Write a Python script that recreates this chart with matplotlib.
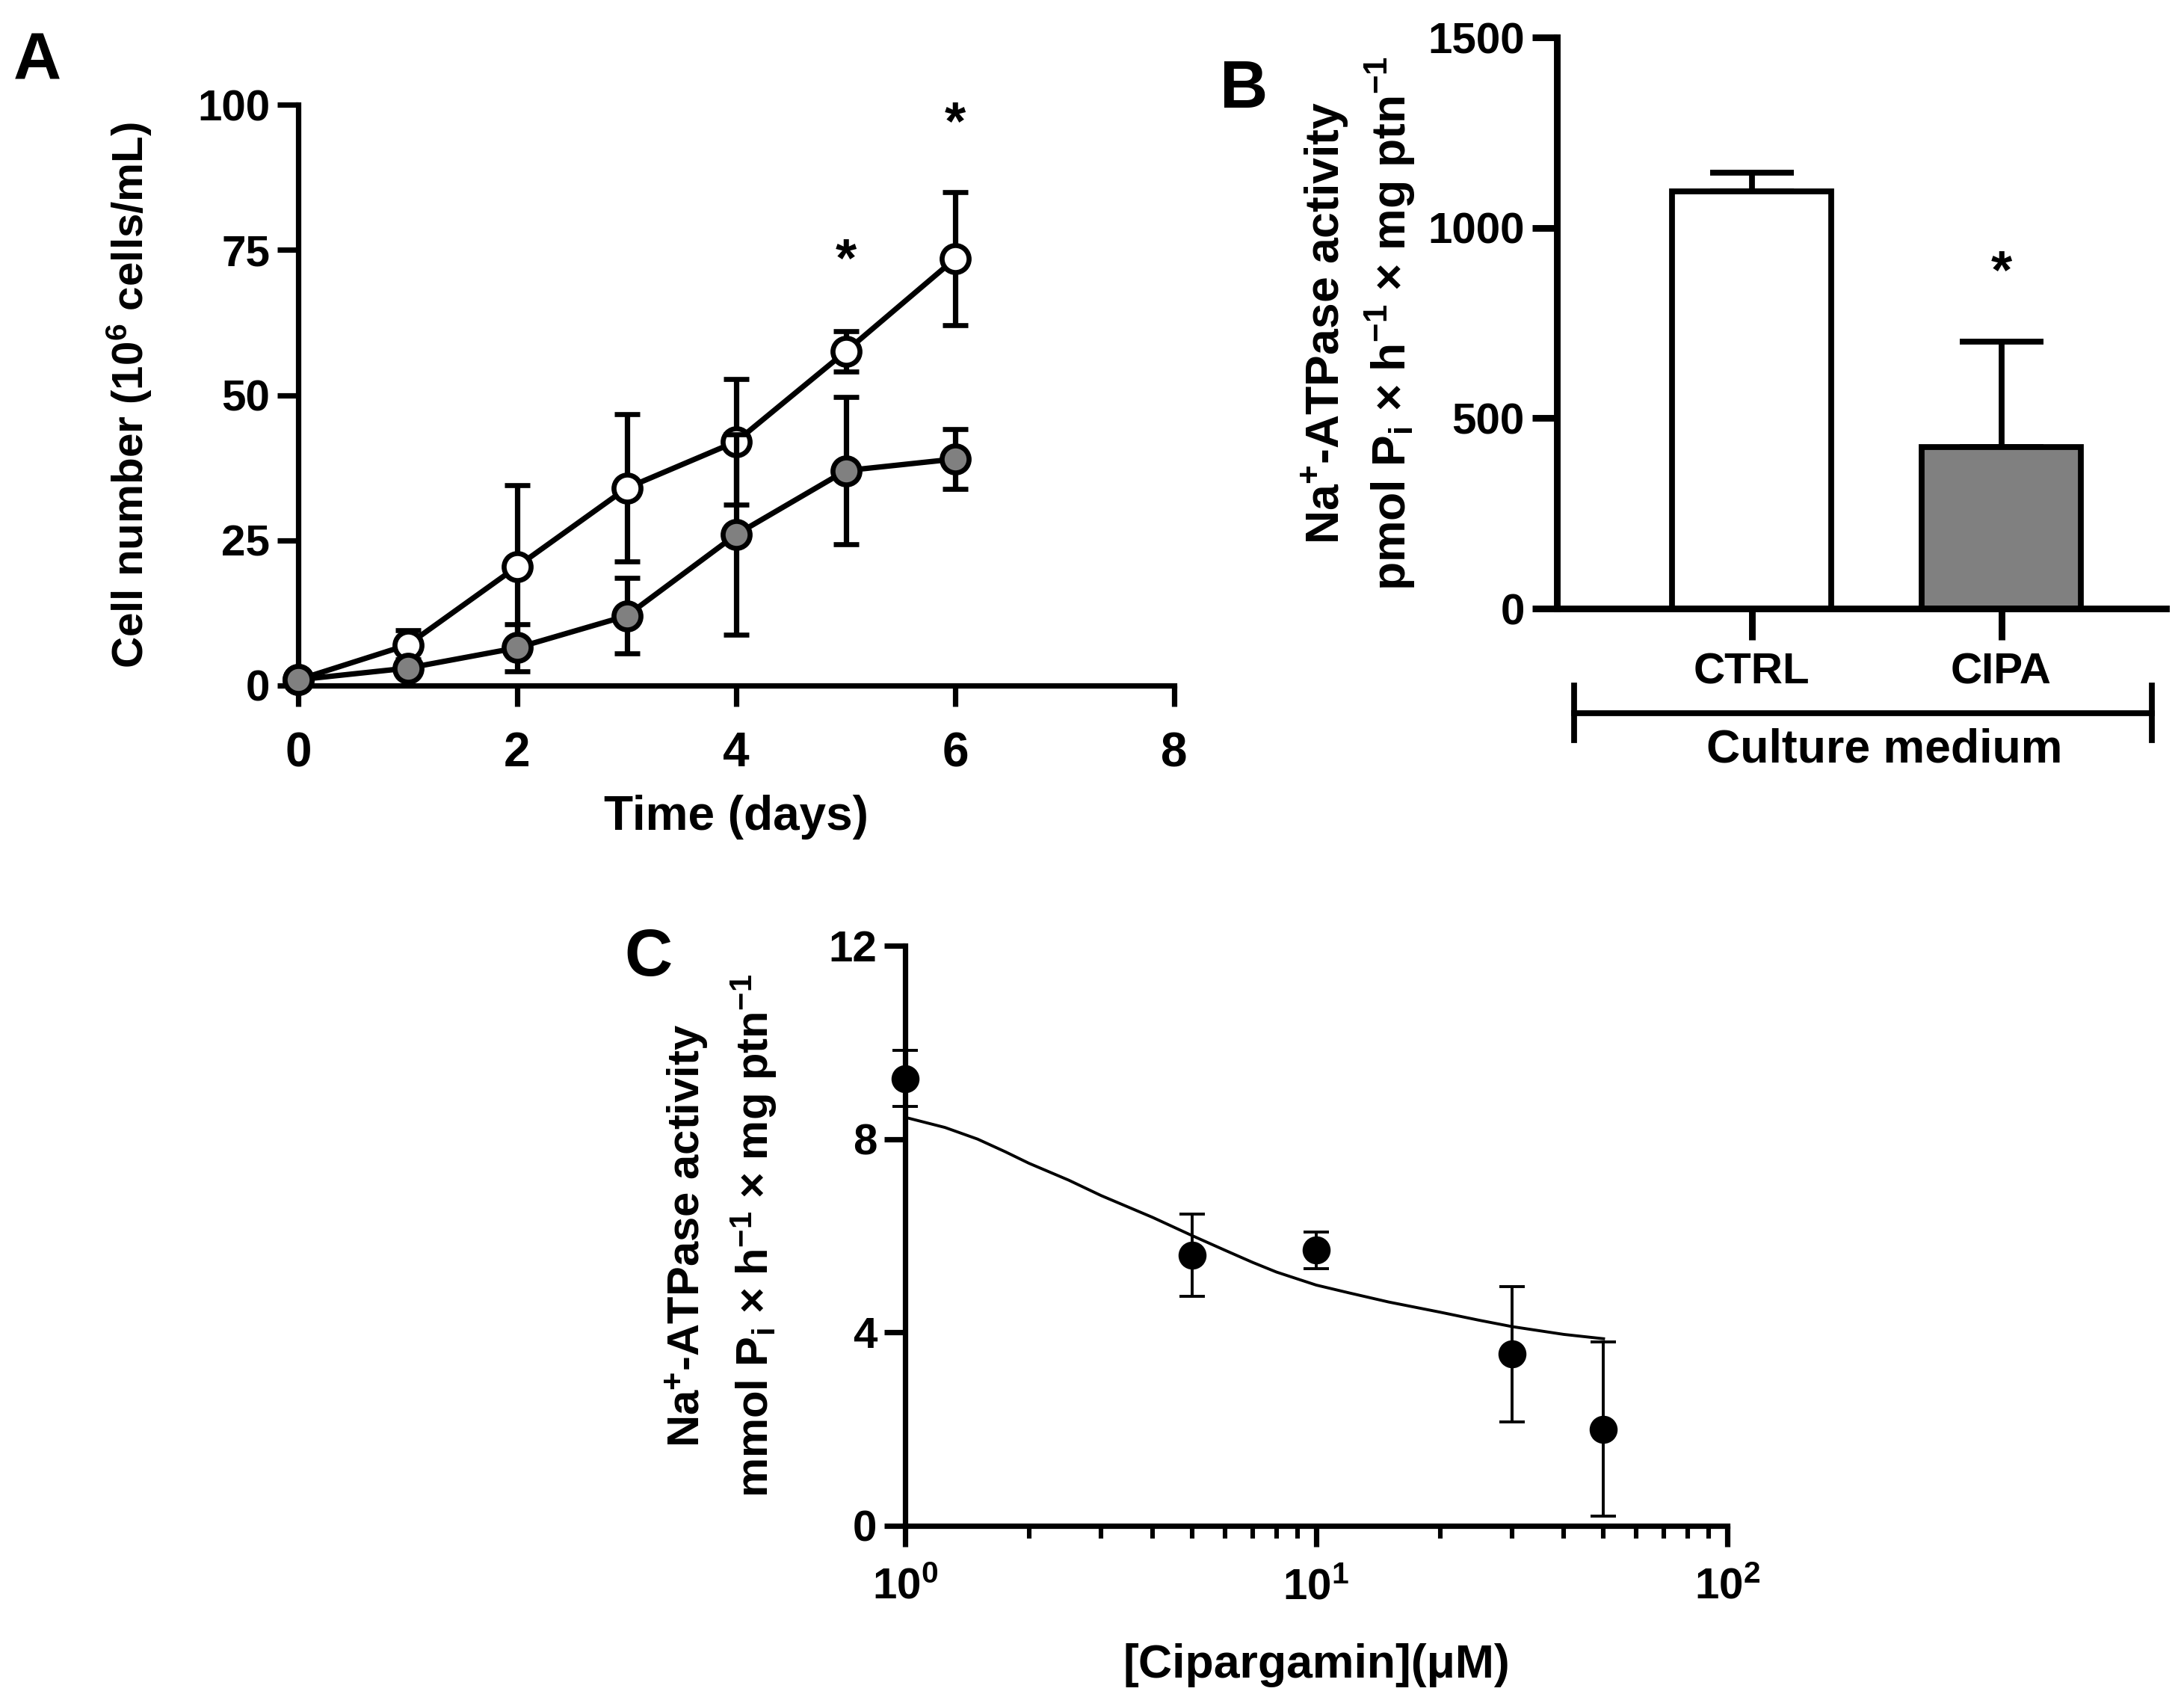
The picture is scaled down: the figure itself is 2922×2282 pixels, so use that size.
import numpy as np
import matplotlib
matplotlib.use("Agg")
import matplotlib.pyplot as plt
from matplotlib.lines import Line2D
from matplotlib.ticker import LogLocator, NullFormatter

# ---- data ----
days = [0, 1, 2, 3, 4, 5, 6]
ctrl_cells = [1, 7, 20.5, 34, 42, 57.5, 73.5]
ctrl_err = [0.5, 2.5, 14, 12.7, 10.8, 3.5, 11.5]
cipa_cells = [1, 3, 6.5, 12, 26, 37, 39]
cipa_err = [0.5, 0.8, 4, 6.5, 17.2, 12.7, 5.2]
star_days = [5, 6]
star_y = [73, 96.5]

groups = ["CTRL", "CIPA"]
atpase = [1095, 425]
atpase_err = [50, 275]
bar_colors = ["white", "#808080"]
star_b_y = 880

conc = [1, 5, 10, 30, 50]
activity = [9.25, 5.6, 5.7, 3.55, 2.0]
activity_err = [0.58, 0.85, 0.38, 1.4, 1.8]
fit_x = [1, 1.25, 1.5, 1.75, 2, 2.5, 3, 4, 5, 6, 7, 8, 10, 12, 15, 20, 25, 30, 40, 50]
fit_y = [8.45, 8.24, 8.0, 7.74, 7.5, 7.15, 6.83, 6.38, 6.0, 5.7, 5.45, 5.25,
         4.98, 4.82, 4.63, 4.42, 4.25, 4.12, 3.96, 3.87]

WIDE = ["Liberation Sans", "DejaVu Sans"]

plt.rcParams["font.family"] = WIDE
plt.rcParams["font.weight"] = "bold"
plt.rcParams["mathtext.fontset"] = "custom"
plt.rcParams["mathtext.rm"] = "Liberation Sans:bold"
plt.rcParams["mathtext.bf"] = "Liberation Sans:bold"
plt.rcParams["mathtext.it"] = "Liberation Sans:bold"
plt.rcParams["mathtext.default"] = "bf"

W, H = 2922, 2282
fig = plt.figure(figsize=(W / 200, H / 200), dpi=200)

def px_axes(x0, y0, x1, y1):
    return fig.add_axes([x0 / W, 1 - y1 / H, (x1 - x0) / W, (y1 - y0) / H])

def style(ax, lw=2.6, tick_len=10, size=21):
    for s in ["top", "right"]:
        ax.spines[s].set_visible(False)
    for s in ["left", "bottom"]:
        ax.spines[s].set_linewidth(lw)
    ax.tick_params(width=lw, length=tick_len, labelsize=size)
    for lab in ax.get_xticklabels() + ax.get_yticklabels():
        lab.set_fontweight("bold")

# ---- panel A ----
axA = px_axes(399, 140, 1571, 917)
axA.errorbar(days, ctrl_cells, yerr=ctrl_err, fmt="-o", color="black",
             mfc="white", mec="black", ms=13, mew=2.4, lw=2.6,
             elinewidth=2.6, capsize=6, capthick=2.6, clip_on=False, zorder=3)
axA.errorbar(days, cipa_cells, yerr=cipa_err, fmt="-o", color="black",
             mfc="#808080", mec="black", ms=13, mew=2.4, lw=2.6,
             elinewidth=2.6, capsize=6, capthick=2.6, clip_on=False, zorder=4)
for d, y in zip(star_days, star_y):
    axA.text(d, y, "*", ha="center", va="center", fontsize=26)
axA.set_xlim(0, 8)
axA.set_ylim(0, 100)
axA.set_xticks([0, 2, 4, 6, 8])
axA.set_yticks([0, 25, 50, 75, 100])
style(axA)
axA.tick_params(axis="x", labelsize=23, pad=12)
axA.set_xlabel("Time (days)", fontsize=23, fontweight="bold", labelpad=9)
axA.set_ylabel("Cell number (10$^{6}$ cells/mL)", fontsize=21,
               fontweight="bold", labelpad=21)

# ---- panel B ----
axB = px_axes(2083, 50, 2898, 814)
xb = np.arange(len(groups))
axB.bar(xb, atpase, width=0.64, color=bar_colors, edgecolor="black",
        linewidth=2.8, zorder=2)
axB.errorbar(xb, atpase, yerr=[[0, 0], atpase_err], fmt="none",
             ecolor="black", elinewidth=2.8, capsize=20, capthick=2.8, zorder=1)
axB.text(1, star_b_y, "*", ha="center", va="center", fontsize=26)
axB.set_xlim(-0.78, 1.66)
axB.set_ylim(0, 1500)
axB.set_xticks(xb)
axB.set_xticklabels(groups)
axB.set_yticks([0, 500, 1000, 1500])
style(axB, lw=3.2, tick_len=12, size=21)
axB.tick_params(axis="x", length=15, pad=6, labelsize=21)
axB.set_ylabel("Na$^{+}$-ATPase activity\npmol P$_{i}$ \u00d7 h$^{-1}$ \u00d7 mg ptn$^{-1}$",
               fontsize=22.5, fontweight="bold", labelpad=5, linespacing=1.3)

# culture medium bracket
fig.add_artist(Line2D([2106 / W, 2879 / W], [1 - 954 / H, 1 - 954 / H],
                      color="black", lw=2.8))
for xe in (2106, 2879):
    fig.add_artist(Line2D([xe / W, xe / W], [1 - 917 / H, 1 - 990 / H],
                          color="black", lw=2.8))
fig.text(2521 / W, 1 - 1003 / H, "Culture medium", ha="center", va="center",
         fontsize=22.5, fontweight="bold")

# ---- panel C ----
axC = px_axes(1211, 1265, 2311, 2041)
axC.plot(fit_x, fit_y, color="black", lw=1.4, zorder=2)
axC.errorbar(conc, activity, yerr=activity_err, fmt="o", color="black",
             ms=12.5, elinewidth=1.4, capsize=6, capthick=1.4,
             clip_on=False, zorder=3)
axC.set_xscale("log")
axC.set_xlim(1, 100)
axC.set_ylim(0, 12)
axC.set_yticks([0, 4, 8, 12])
axC.xaxis.set_major_locator(LogLocator(base=10, numticks=5))
axC.xaxis.set_minor_locator(LogLocator(base=10, subs=np.arange(2, 10), numticks=20))
axC.xaxis.set_minor_formatter(NullFormatter())
style(axC, tick_len=10)
axC.tick_params(axis="x", which="minor", width=2.2, length=6)
axC.tick_params(axis="x", which="major", pad=10)
axC.set_xlabel("[Cipargamin](\u03bcM)", fontsize=22.5, fontweight="bold", labelpad=17)
axC.set_ylabel("Na$^{+}$-ATPase activity\nmmol P$_{i}$ \u00d7 h$^{-1}$ \u00d7 mg ptn$^{-1}$",
               fontsize=21.5, fontweight="bold", labelpad=24, linespacing=1.45)

# panel letters
fig.text(50 / W, 1 - 84 / H, "A", fontsize=32, fontweight="bold",
         ha="center", va="center")
fig.text(1664 / W, 1 - 121 / H, "B", fontsize=32, fontweight="bold",
         ha="center", va="center")
fig.text(867 / W, 1 - 1282 / H, "C", fontsize=32, fontweight="bold",
         ha="center", va="center")

fig.savefig("out.png", dpi=200)
